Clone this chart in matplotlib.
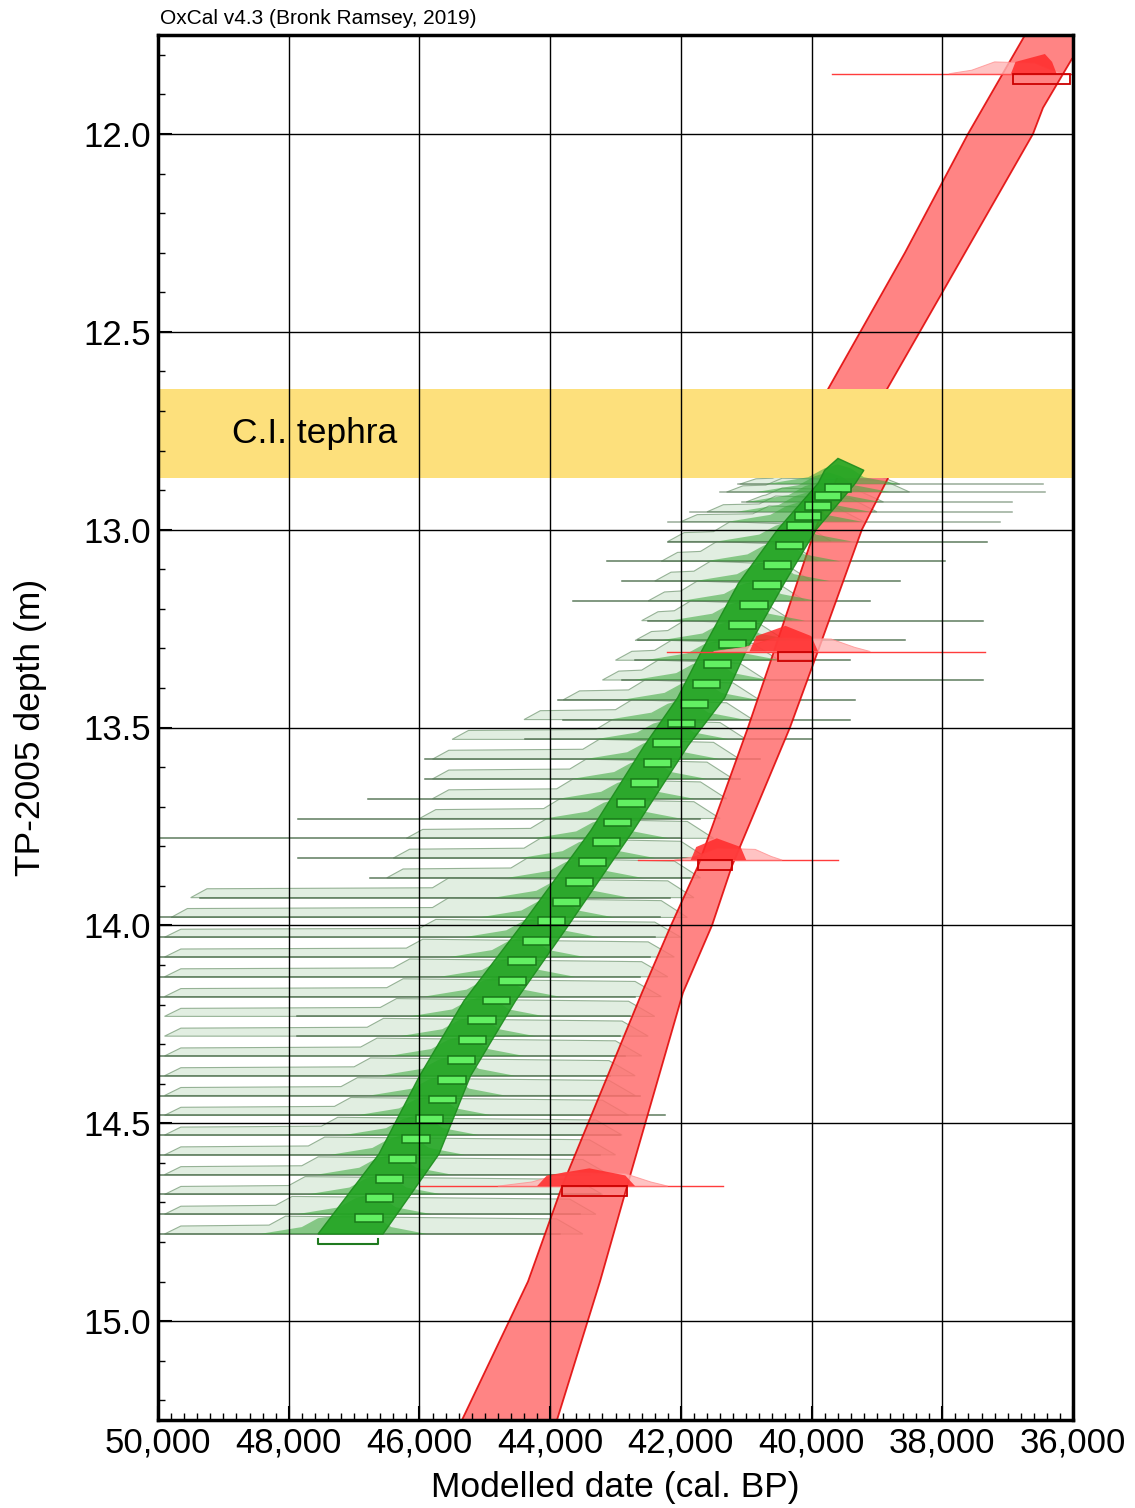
# OxCal P_Sequence depth model plot (TP-2005 core)
import matplotlib
matplotlib.use("Agg")
import matplotlib.pyplot as plt
from matplotlib.patches import Polygon, Rectangle
from matplotlib.ticker import MultipleLocator, FuncFormatter

plt.rcParams["font.family"] = ["Liberation Sans", "DejaVu Sans"]

# ---- red model envelope (older edge / younger edge) ----
red_old_depth = [11.70, 12.0, 12.3, 12.645, 12.87, 13.0, 13.3, 13.5, 13.85, 14.0, 14.17, 14.66, 14.9, 15.25]
red_old_date = [36560, 37607, 38571, 39749, 39611, 39948, 40560, 40973, 41738, 42151, 42595, 43819, 44339, 45349]
red_young_depth = [11.70, 11.81, 11.934, 12.0, 12.645, 12.87, 13.0, 13.3, 13.5, 13.85, 14.0, 14.17, 14.66, 14.9, 15.25]
red_young_date = [35100, 36015, 36459, 36612, 38846, 38831, 39230, 39887, 40330, 41218, 41523, 41967, 42824, 43237, 43895]

# ---- red dated samples ----
red_depth = [11.848, 13.308, 13.835, 14.659]
red_line_old = [39688, 42212, 42656, 45991]
red_line_young = [35500, 37347, 39596, 41355]
red_lik_old = [37900, 41500, 42100, 44800]
red_lik_young = [36150, 39100, 40450, 42200]
red_lik_h = [0.03, 0.035, 0.03, 0.035]
red_post_old = [36950, 40950, 41850, 44200]
red_post_peak = [36430, 40400, 41450, 43400]
red_post_young = [36250, 39900, 41000, 42700]
red_post_h = [0.05, 0.065, 0.055, 0.045]
red_box_old = [36918, 40514, 41738, 43819]
red_box_young = [36046, 39978, 41218, 42824]

# ---- green model envelope ----
green_env_depth = [12.82, 12.85, 12.883, 13.0, 13.136, 13.306, 13.425, 13.546, 13.761, 14.0, 14.191, 14.381, 14.578, 14.78]
green_env_old = [39596, 39800, 39900, 40520, 41120, 41680, 42050, 42560, 43380, 44440, 45320, 46000, 46620, 47552]
green_env_young = [39596, 39200, 39330, 39930, 40420, 41000, 41330, 41890, 42730, 43720, 44530, 45220, 45700, 46557]

# ---- green dated samples ----
green_depth = [12.885, 12.905, 12.93, 12.955, 12.98, 13.03, 13.08, 13.13, 13.18, 13.23,
               13.28, 13.33, 13.38, 13.43, 13.48, 13.53, 13.58, 13.63, 13.68, 13.73,
               13.78, 13.83, 13.88, 13.93, 13.98, 14.03, 14.08, 14.13, 14.18, 14.23,
               14.28, 14.33, 14.38, 14.43, 14.48, 14.53, 14.58, 14.63, 14.68, 14.73, 14.78]
green_line_old = [41126, 41401, 41064, 41860, 42197, 42197, 43130, 42901, 43650, 42503,
                  42656, 42702, 42901, 43880, 43803, 44385, 45915, 45915, 46787, 47858,
                  49970, 47858, 46756, 49357, 49970, 49970, 49970, 49970, 49970, 47873,
                  47873, 49970, 49970, 49970, 49970, 49970, 49970, 49970, 49970, 49970, 49970]
green_line_young = [36459, 36429, 36933, 36933, 37117, 37316, 37958, 38647, 39106, 37377,
                    38571, 39412, 37377, 39335, 39412, 39993, 40789, 41095, 41401, 41707,
                    42013, 41707, 41860, 42166, 42319, 42396, 42472, 42625, 42702, 42778,
                    42931, 42855, 43084, 42625, 42243, 42931, 43237, 43390, 43237, 43543, 43849]
green_lik_old = [41100, 41300, 41000, 41600, 42000, 42200, 42300, 42400, 42500, 42600,
                 42700, 43000, 43200, 43800, 44400, 45500, 45800, 45800, 45800, 46000,
                 46200, 46400, 46500, 49500, 49800, 49900, 49900, 49900, 49900, 49900,
                 49900, 49900, 49900, 49900, 49900, 49900, 49900, 49900, 49900, 49900, 49900]
green_lik_step = [40600, 40700, 40700, 40800, 40900, 41500, 41700, 41800, 42000, 42100,
                  42200, 42400, 42600, 42800, 43000, 43300, 43500, 43700, 43900, 44100,
                  44300, 44400, 44600, 45800, 45800, 46000, 46200, 46400, 46500, 46600,
                  46800, 46900, 47000, 47200, 47300, 47500, 47700, 47800, 48000, 48200, 48300]
green_lik_young = [38650, 38500, 38900, 39000, 39200, 39700, 39900, 40000, 40100, 40300,
                   40400, 40500, 40700, 40800, 40900, 41000, 41100, 41200, 41300, 41400,
                   41500, 41600, 41700, 41800, 41900, 42000, 42100, 42200, 42300, 42400,
                   42500, 42600, 42700, 42700, 42800, 42900, 43000, 43100, 43200, 43300, 43500]
green_lik_h = [0.03, 0.035, 0.035, 0.04, 0.04, 0.05, 0.05, 0.05, 0.05, 0.05,
               0.05, 0.05, 0.05, 0.05, 0.05, 0.05, 0.05, 0.05, 0.05, 0.05,
               0.05, 0.05, 0.05, 0.05, 0.05, 0.045, 0.045, 0.045, 0.045, 0.045,
               0.045, 0.045, 0.045, 0.045, 0.045, 0.045, 0.045, 0.045, 0.045, 0.045, 0.045]
green_range_old = [39800, 39950, 40100, 40250, 40380, 40550, 40730, 40890, 41090, 41270,
                   41420, 41650, 41820, 42000, 42200, 42420, 42570, 42770, 42970, 43180,
                   43350, 43560, 43760, 43960, 44190, 44420, 44640, 44790, 45030, 45250,
                   45400, 45570, 45710, 45860, 46060, 46260, 46470, 46670, 46820, 46980, 47550]
green_range_young = [39400, 39550, 39700, 39850, 39980, 40130, 40310, 40470, 40670, 40850,
                     41000, 41230, 41400, 41580, 41780, 42000, 42150, 42350, 42550, 42760,
                     42930, 43140, 43340, 43540, 43770, 44000, 44220, 44370, 44610, 44830,
                     44980, 45150, 45290, 45440, 45640, 45840, 46050, 46250, 46400, 46560, 46630]

tephra_top, tephra_bottom = 12.645, 12.87

fig = plt.figure(figsize=(11.35, 15.08), dpi=100)
ax = fig.add_axes([158 / 1135, 1 - 1420 / 1508, 915 / 1135, 1385 / 1508])

# green likelihoods and sample lines
for i, d in enumerate(green_depth):
    old, step, young, h = green_lik_old[i], green_lik_step[i], green_lik_young[i], green_lik_h[i]
    pts = [(old, d), (old - 250, d - 0.45 * h), (step, d - 0.5 * h), (step - 250, d - h),
           (young + 400, d - 0.85 * h), (young, d)]
    ax.add_patch(Polygon(pts, closed=True, facecolor="#dcecdc", edgecolor="#86a686",
                         lw=0.8, alpha=0.85, zorder=1.0))
    ax.plot([green_line_old[i], green_line_young[i]], [d, d], color="#557555",
            lw=1.1, alpha=0.6 if d < 13.0 else 0.95, zorder=1.01)

# red envelope
red_pts = list(zip(red_old_date, red_old_depth)) + list(zip(red_young_date[::-1], red_young_depth[::-1]))
ax.add_patch(Polygon(red_pts, closed=True, facecolor="#ff6e6e", edgecolor="#e00000",
                     lw=1.3, alpha=0.85, zorder=1.1))

# tephra layer
ax.axhspan(tephra_top, tephra_bottom, color="#fde07c", zorder=1.2, lw=0)
ax.text(48870, (tephra_top + tephra_bottom) / 2, "C.I. tephra", fontsize=25.5,
        va="center", ha="left", zorder=1.25)

# green posteriors
for i, d in enumerate(green_depth):
    ro, ry = green_range_old[i], green_range_young[i]
    c = (ro + ry) / 2
    hp = 0.05
    pts = [(ro + 900, d), (ro + 250, d - 0.35 * hp), (ro, d - 0.8 * hp), (c, d - hp),
           (ry, d - 0.8 * hp), (ry - 200, d - 0.35 * hp), (ry - 750, d)]
    ax.add_patch(Polygon(pts, closed=True, facecolor="#3aa83a", edgecolor="none",
                         alpha=0.55, zorder=1.4))

env_pts = list(zip(green_env_old, green_env_depth)) + list(zip(green_env_young[::-1], green_env_depth[::-1]))
ax.add_patch(Polygon(env_pts, closed=True, facecolor="#22a522", edgecolor="#1c8c1c",
                     lw=1.0, alpha=0.9, zorder=1.5))

for i, d in enumerate(green_depth):
    ro, ry = green_range_old[i], green_range_young[i]
    if i == len(green_depth) - 1:
        ax.plot([ro, ro, ry, ry], [d + 0.012, d + 0.025, d + 0.025, d + 0.012],
                color="#1f7a1f", lw=1.5, zorder=1.6)
    else:
        ax.add_patch(Rectangle((ry, d), ro - ry, 0.02, facecolor="#62f062",
                               edgecolor="#1a7a1a", lw=1.1, zorder=1.6))

# red dated samples
for i, d in enumerate(red_depth):
    ax.plot([red_line_old[i], red_line_young[i]], [d, d], color="#ff3c3c", lw=1.0, zorder=2.0)
    lo, ly, lh = red_lik_old[i], red_lik_young[i], red_lik_h[i]
    span = lo - ly
    ax.add_patch(Polygon([(lo, d), (lo - 0.2 * span, d - 0.3 * lh), (lo - 0.4 * span, d - lh),
                          (ly + 0.25 * span, d - 0.9 * lh), (ly + 0.1 * span, d - 0.3 * lh), (ly, d)],
                         closed=True, facecolor="#ffb4b4", edgecolor="#ff9090", lw=0.7,
                         alpha=0.8, zorder=2.05))
    po, pk, py, ph = red_post_old[i], red_post_peak[i], red_post_young[i], red_post_h[i]
    ax.add_patch(Polygon([(po, d), (po - 0.1 * (po - py), d - 0.6 * ph), (pk, d - ph),
                          (py + 0.1 * (po - py), d - 0.6 * ph), (py, d)], closed=True,
                         facecolor="#ff2a2a", edgecolor="none", alpha=0.85, zorder=2.1))
    ax.add_patch(Rectangle((red_box_young[i], d), red_box_old[i] - red_box_young[i], 0.025,
                           facecolor="none", edgecolor="#cc0000", lw=1.3, zorder=2.15))

ax.set_xlim(50000, 36000)
ax.set_ylim(15.25, 11.75)
ax.set_xticks(range(50000, 35999, -2000))
ax.set_yticks([12.0, 12.5, 13.0, 13.5, 14.0, 14.5, 15.0])
ax.xaxis.set_minor_locator(MultipleLocator(200))
ax.yaxis.set_minor_locator(MultipleLocator(0.1))
ax.xaxis.set_major_formatter(FuncFormatter(lambda v, p: f"{int(v):,}"))
ax.yaxis.set_major_formatter(FuncFormatter(lambda v, p: f"{v:.1f}"))
ax.tick_params(which="both", direction="in", top=False, right=False, labelsize=25, pad=5)
ax.tick_params(which="major", length=10, width=1.5)
ax.tick_params(which="minor", length=5, width=1)
ax.set_axisbelow(False)
ax.grid(which="major", color="black", lw=1.0)
for s in ax.spines.values():
    s.set_linewidth(2.5)

ax.set_xlabel("Modelled date (cal. BP)", fontsize=25.5, labelpad=8)
ax.set_ylabel("TP-2005 depth (m)", fontsize=25.5, labelpad=26)
fig.text(160 / 1135, 1 - 18 / 1508, "OxCal v4.3 (Bronk Ramsey, 2019)", fontsize=15, va="center")

plt.savefig("out.png", dpi=100)
